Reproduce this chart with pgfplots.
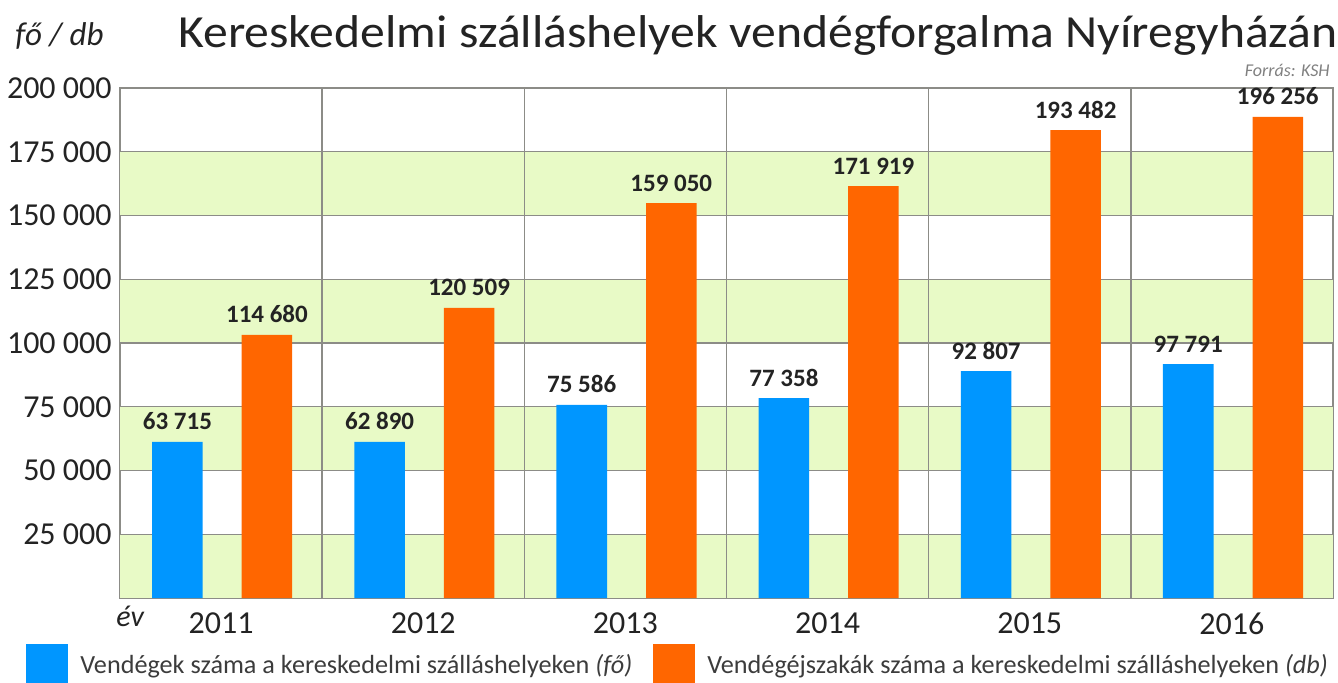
\documentclass[border=0pt]{standalone}
\usepackage{graphicx}
\usepackage{pgfplots}
\pgfplotsset{compat=1.18}
\usepackage{fontspec}
\setmainfont{Carlito}
\definecolor{bandgreen}{RGB}{232,250,198}
\definecolor{gridgray}{RGB}{140,140,135}
\definecolor{barblue}{RGB}{0,150,255}
\definecolor{barorange}{RGB}{255,102,0}
\definecolor{txt}{RGB}{35,35,35}
\definecolor{legtxt}{RGB}{60,60,60}
\begin{document}
\begin{tikzpicture}
\useasboundingbox (0,0) rectangle (669pt,341pt);
\begin{axis}[
  at={(60pt,42pt)}, anchor=south west,
  scale only axis, width=606.5pt, height=255pt,
  xmin=0, xmax=6, ymin=0, ymax=200000,
  scaled y ticks=false,
  axis line style={gridgray, line width=0.7pt},
  xtick={0.5,1.5,2.5,3.5,4.5,5.5},
  xticklabels={2011,2012,2013,2014,2015,2016},
  ytick={25000,50000,75000,100000,125000,150000,175000,200000},
  yticklabels={25 000,50 000,75 000,100 000,125 000,150 000,175 000,200 000},
  major tick length=0pt,
  /pgf/number format/assume math mode=true,
  ticklabel style={font=\fontsize{16}{18}\selectfont, text=txt},
  yticklabel style={inner sep=0pt, xshift=-4pt},
  xticklabel style={inner sep=0pt, yshift=-7pt},
  legend columns=2,
  legend cell align=left,
  legend style={at={(axis description cs:-0.0775,-0.131)}, anchor=west,
    draw=none, fill=none, inner sep=0pt, font=\fontsize{13.1}{15}\selectfont, text=legtxt,
    /tikz/every even column/.append style={column sep=8.5pt}},
  legend image code/.code={\fill[#1] (0pt,-10pt) rectangle (21pt,11pt);},
  every node near coord/.append style={font=\bfseries\fontsize{12.5}{14}\selectfont, text=txt, anchor=base, inner sep=0pt, yshift=6pt},
]
\fill[bandgreen] (axis cs:0,0) rectangle (axis cs:6,25000);
\fill[bandgreen] (axis cs:0,50000) rectangle (axis cs:6,75000);
\fill[bandgreen] (axis cs:0,100000) rectangle (axis cs:6,125000);
\fill[bandgreen] (axis cs:0,150000) rectangle (axis cs:6,175000);
\draw[gridgray, line width=0.7pt] (axis cs:0,25000) -- (axis cs:6,25000);
\draw[gridgray, line width=0.7pt] (axis cs:0,50000) -- (axis cs:6,50000);
\draw[gridgray, line width=0.7pt] (axis cs:0,75000) -- (axis cs:6,75000);
\draw[gridgray, line width=0.7pt] (axis cs:0,100000) -- (axis cs:6,100000);
\draw[gridgray, line width=0.7pt] (axis cs:0,125000) -- (axis cs:6,125000);
\draw[gridgray, line width=0.7pt] (axis cs:0,150000) -- (axis cs:6,150000);
\draw[gridgray, line width=0.7pt] (axis cs:0,175000) -- (axis cs:6,175000);
\draw[gridgray, line width=0.7pt] (axis cs:1,0) -- (axis cs:1,200000);
\draw[gridgray, line width=0.7pt] (axis cs:2,0) -- (axis cs:2,200000);
\draw[gridgray, line width=0.7pt] (axis cs:3,0) -- (axis cs:3,200000);
\draw[gridgray, line width=0.7pt] (axis cs:4,0) -- (axis cs:4,200000);
\draw[gridgray, line width=0.7pt] (axis cs:5,0) -- (axis cs:5,200000);
\addplot[ybar, bar shift=0pt, bar width=0.25, fill=barblue, draw=none,
  point meta=explicit symbolic, nodes near coords] coordinates {
  (0.284,61180) [63 715]
  (1.284,61180) [62 890]
  (2.284,75690) [75 586]
  (3.284,78430) [77 358]
  (4.284,89020) [92 807]
  (5.284,91760) [97 791]
};
\addlegendentry{\hspace*{4pt}Vendégek száma a kereskedelmi szálláshelyeken \textit{(fő)}}
\addplot[ybar, bar shift=0pt, bar width=0.25, fill=barorange, draw=none,
  point meta=explicit symbolic, nodes near coords] coordinates {
  (0.727,103140) [114 680]
  (1.727,113730) [120 509]
  (2.727,154900) [159 050]
  (3.727,161570) [171 919]
  (4.727,183530) [193 482]
  (5.727,188630) [196 256]
};
\addlegendentry{\hspace*{4pt}Vendégéjszakák száma a kereskedelmi szálláshelyeken \textit{(db)}}
\end{axis}
\node[anchor=base west, inner sep=0pt, text=txt, font=\fontsize{23}{26}\selectfont] at (89pt,317pt) {\scalebox{1.08}[1]{Kereskedelmi szálláshelyek vendégforgalma Nyíregyházán}};
\node[anchor=base west, inner sep=0pt, text=txt, font=\itshape\fontsize{16.5}{18}\selectfont] at (7.5pt,318pt) {fő / db};
\node[anchor=base east, inner sep=0pt, text=gray, font=\itshape\fontsize{9}{11}\selectfont] at (665pt,303pt) {Forrás: KSH};
\node[anchor=base west, inner sep=0pt, text=txt, font=\itshape\fontsize{15}{17}\selectfont] at (58pt,28pt) {év};
\end{tikzpicture}
\end{document}
